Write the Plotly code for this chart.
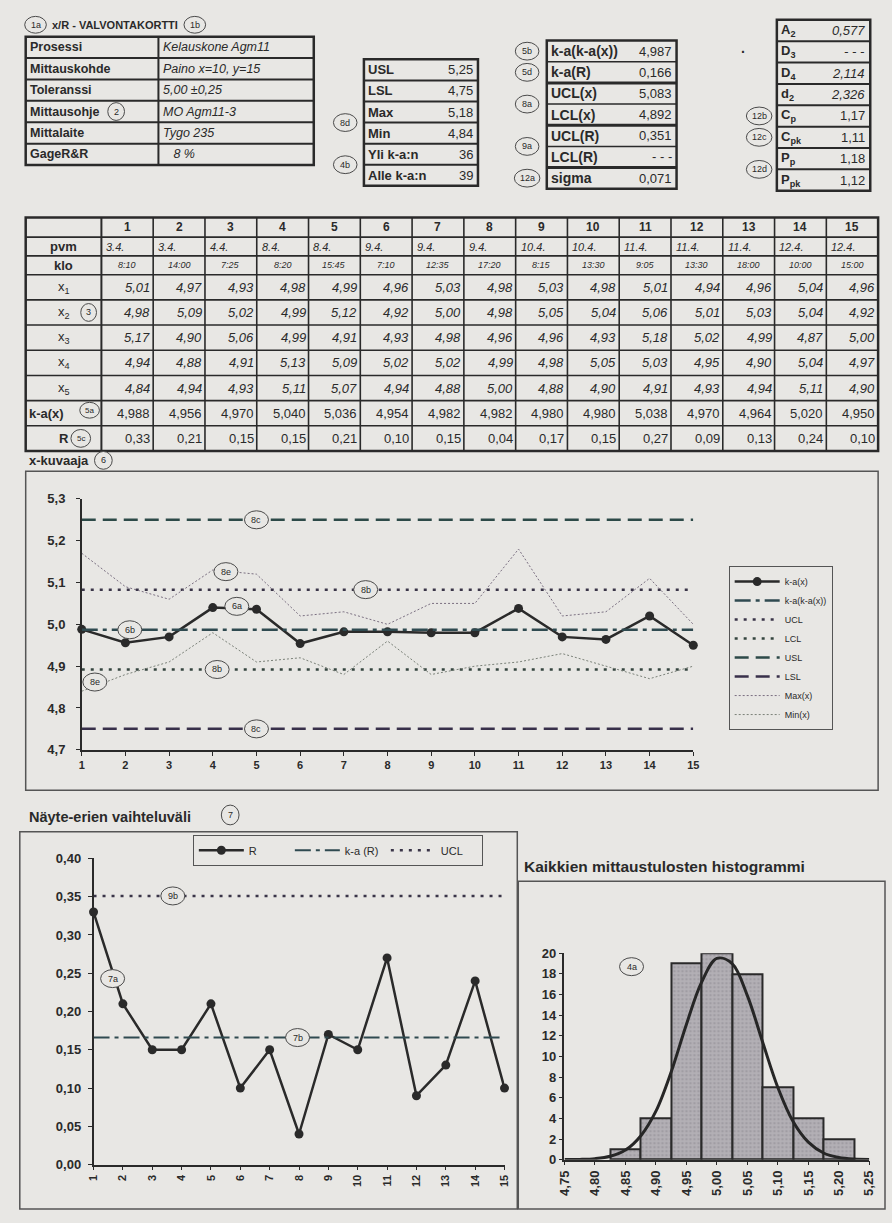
import plotly.graph_objects as go

W, H = 892, 1223
BG = "#e8e7e4"
INK = "#2a2a2a"
FONT = "Liberation Sans, Arial, sans-serif"

# ---------------- data ----------------
samples = list(range(1, 16))
pvm = ["3.4.", "3.4.", "4.4.", "8.4.", "8.4.", "9.4.", "9.4.", "9.4.", "10.4.", "10.4.",
       "11.4.", "11.4.", "11.4.", "12.4.", "12.4."]
klo = ["8:10", "14:00", "7:25", "8:20", "15:45", "7:10", "12:35", "17:20", "8:15", "13:30",
       "9:05", "13:30", "18:00", "10:00", "15:00"]
x1 = [5.01, 4.97, 4.93, 4.98, 4.99, 4.96, 5.03, 4.98, 5.03, 4.98, 5.01, 4.94, 4.96, 5.04, 4.96]
x2 = [4.98, 5.09, 5.02, 4.99, 5.12, 4.92, 5.00, 4.98, 5.05, 5.04, 5.06, 5.01, 5.03, 5.04, 4.92]
x3 = [5.17, 4.90, 5.06, 4.99, 4.91, 4.93, 4.98, 4.96, 4.96, 4.93, 5.18, 5.02, 4.99, 4.87, 5.00]
x4 = [4.94, 4.88, 4.91, 5.13, 5.09, 5.02, 5.02, 4.99, 4.98, 5.05, 5.03, 4.95, 4.90, 5.04, 4.97]
x5 = [4.84, 4.94, 4.93, 5.11, 5.07, 4.94, 4.88, 5.00, 4.88, 4.90, 4.91, 4.93, 4.94, 5.11, 4.90]
ka_x = [4.988, 4.956, 4.970, 5.040, 5.036, 4.954, 4.982, 4.982, 4.980, 4.980, 5.038, 4.970,
        4.964, 5.020, 4.950]
r_vals = [0.33, 0.21, 0.15, 0.15, 0.21, 0.10, 0.15, 0.04, 0.17, 0.15, 0.27, 0.09, 0.13, 0.24, 0.10]
max_x = [5.17, 5.09, 5.06, 5.13, 5.12, 5.02, 5.03, 5.00, 5.05, 5.05, 5.18, 5.02, 5.03, 5.11, 5.00]
min_x = [4.84, 4.88, 4.91, 4.98, 4.91, 4.92, 4.88, 4.96, 4.88, 4.90, 4.91, 4.93, 4.90, 4.87, 4.90]

ka_ka_x = 4.987
ka_r = 0.166
ucl_x = 5.083
lcl_x = 4.892
ucl_r = 0.351
usl = 5.25
lsl = 4.75

info_labels = ["Prosessi", "Mittauskohde", "Toleranssi", "Mittausohje", "Mittalaite", "GageR&R"]
info_values = ["Kelauskone Agm11", "Paino x=10, y=15", "5,00 ±0,25", "MO Agm11-3", "Tygo 235", "   8 %"]

lim_labels = ["USL", "LSL", "Max", "Min", "Yli k-a:n", "Alle k-a:n"]
lim_values = ["5,25", "4,75", "5,18", "4,84", "36", "39"]

stat_labels = ["k-a(k-a(x))", "k-a(R)", "UCL(x)", "LCL(x)", "UCL(R)", "LCL(R)", "sigma"]
stat_values = ["4,987", "0,166", "5,083", "4,892", "0,351", "- - -", "0,071"]

const_labels = ["A<sub>2</sub>", "D<sub>3</sub>", "D<sub>4</sub>", "d<sub>2</sub>",
                "C<sub>p</sub>", "C<sub>pk</sub>", "P<sub>p</sub>", "P<sub>pk</sub>"]
const_values = ["<i>0,577</i>", "<i>- - -</i>", "<i>2,114</i>", "<i>2,326</i>",
                "1,17", "1,11", "1,18", "1,12"]

hist_bins = [4.85, 4.90, 4.95, 5.00, 5.05, 5.10, 5.15, 5.20]
hist_counts = [1, 4, 19, 20, 18, 7, 4, 2]
curve_x = [4.75, 4.775, 4.80, 4.825, 4.85, 4.875, 4.90, 4.925, 4.95, 4.975, 5.00,
           5.025, 5.05, 5.075, 5.10, 5.125, 5.15, 5.175, 5.20, 5.225, 5.25]
curve_y = [0.01, 0.03, 0.10, 0.33, 0.93, 2.3, 4.7, 8.5, 13.1, 17.2, 19.5,
           19.0, 15.9, 11.4, 7.0, 3.7, 1.7, 0.65, 0.22, 0.06, 0.02]


# ---------------- helpers ----------------
def px(x):
    return x / W


def py(y):
    return 1 - y / H


shapes = []
annotations = []


def line(x0, y0, x1_, y1_, w=1.5, color=INK):
    shapes.append(dict(type="line", xref="paper", yref="paper", x0=px(x0), y0=py(y0),
                       x1=px(x1_), y1=py(y1_), line=dict(color=color, width=w)))


def rect(x0, y0, x1_, y1_, w=2, color=INK):
    shapes.append(dict(type="rect", xref="paper", yref="paper", x0=px(x0), y0=py(y0),
                       x1=px(x1_), y1=py(y1_), line=dict(color=color, width=w)))


def text(s, x, y, size=13, anchor="left", color=INK, weight="normal"):
    annotations.append(dict(text=s, x=px(x), y=py(y), xref="paper", yref="paper",
                            showarrow=False, xanchor=anchor, yanchor="middle", borderpad=0,
                            font=dict(family=FONT, size=size, color=color, weight=weight)))


def circ(s, x, y, xref="paper", yref="paper", w=24, h=18, size=9):
    if xref == "paper":
        shapes.append(dict(type="circle", xref="paper", yref="paper",
                           x0=px(x - w / 2), x1=px(x + w / 2), y0=py(y + h / 2), y1=py(y - h / 2),
                           line=dict(color="#4a4a4a", width=1), fillcolor=BG, layer="above"))
        annotations.append(dict(text=s, x=px(x), y=py(y), xref="paper", yref="paper",
                                showarrow=False, xanchor="center", yanchor="middle",
                                font=dict(family=FONT, size=size, color=INK)))
    else:
        shapes.append(dict(type="circle", xref=xref, yref=yref, xsizemode="pixel",
                           ysizemode="pixel", xanchor=x, yanchor=y, x0=-w / 2, x1=w / 2,
                           y0=-h / 2, y1=h / 2, line=dict(color="#4a4a4a", width=1),
                           fillcolor=BG, layer="above"))
        annotations.append(dict(text=s, x=x, y=y, xref=xref, yref=yref, showarrow=False,
                                xanchor="center", yanchor="middle",
                                font=dict(family=FONT, size=size, color=INK)))


# ---------------- header & top tables ----------------
circ("1a", 28, 18, w=22, h=17)
text("x/R - VALVONTAKORTTI", 44, 18, size=11, weight="bold")

# info table
ix0, ixm, ix1, iy0, iy1 = 18, 153, 311, 30, 160
rh = (iy1 - iy0) / len(info_labels)
rect(ix0, iy0, ix1, iy1, w=2.5)
line(ixm, iy0, ixm, iy1, w=2)
for i, (lab, val) in enumerate(zip(info_labels, info_values)):
    yc = iy0 + rh * (i + 0.5)
    if i > 0:
        line(ix0, iy0 + rh * i, ix1, iy0 + rh * i, w=2)
    text(lab, ix0 + 3, yc, size=12.5, weight="bold")
    text("<i>" + val + "</i>", ixm + 4, yc, size=12.5)
circ("1b", 190, 18, w=22, h=17)
circ("2", 110, iy0 + rh * 3.5, w=17, h=18)

# limits table
lx0, lx1, ly0, ly1 = 362, 478, 53, 181
rh = (ly1 - ly0) / len(lim_labels)
rect(lx0, ly0, lx1, ly1, w=2.5)
for i, (lab, val) in enumerate(zip(lim_labels, lim_values)):
    yc = ly0 + rh * (i + 0.5)
    if i > 0:
        line(lx0, ly0 + rh * i, lx1, ly0 + rh * i, w=2)
    text(lab, lx0 + 3, yc, size=13, weight="bold")
    text(val, lx1 - 4, yc, size=13, anchor="right")
circ("8d", 343, ly0 + rh * 3)
circ("4b", 343, ly0 + rh * 5)

# statistics table
sx0, sx1, sy0, sy1 = 548, 680, 34, 184
rh = (sy1 - sy0) / len(stat_labels)
rect(sx0, sy0, sx1, sy1, w=2.5)
for i, (lab, val) in enumerate(zip(stat_labels, stat_values)):
    yc = sy0 + rh * (i + 0.5)
    if i > 0:
        line(sx0, sy0 + rh * i, sx1, sy0 + rh * i, w=3 if i in (2, 4, 6) else 1.5)
    text(lab, sx0 + 3, yc, size=14, weight="bold")
    text(val, sx1 - 4, yc, size=13, anchor="right")
circ("5b", 528, sy0 + rh * 0.5)
circ("5d", 528, sy0 + rh * 1.5)
circ("8a", 528, sy0 + rh * 3)
circ("9a", 528, sy0 + rh * 5)
circ("12a", 528, sy0 + rh * 6.5, w=26)
text("·", 745, 46, size=14, weight="bold")

# constants table
cx0, cx1, cy0, cy1 = 782, 877, 13, 186
rh = (cy1 - cy0) / len(const_labels)
rect(cx0, cy0, cx1, cy1, w=2.5)
for i, (lab, val) in enumerate(zip(const_labels, const_values)):
    yc = cy0 + rh * (i + 0.5)
    if i > 0:
        line(cx0, cy0 + rh * i, cx1, cy0 + rh * i, w=2)
    text(lab, cx0 + 3, yc, size=13, weight="bold")
    text(val, cx1 - 4, yc, size=13, anchor="right")
circ("12b", 764, cy0 + rh * 4.5, w=26)
circ("12c", 764, cy0 + rh * 5.5, w=26)
circ("12d", 764, cy0 + rh * 7, w=26)

# ---------------- data table ----------------
tx0, tlab, tx1 = 18, 95, 885
row_bounds = [213, 233, 252, 271, 296.5, 322, 347.5, 373, 398.5, 424, 449.5]
colw = (tx1 - tlab) / len(samples)
rect(tx0, row_bounds[0], tx1, row_bounds[-1], w=2.5)
for yb in row_bounds[1:-1]:
    line(tx0, yb, tx1, yb, w=1.6)
line(tlab, row_bounds[0], tlab, row_bounds[-1], w=2)
for j in range(1, len(samples)):
    line(tlab + colw * j, row_bounds[0], tlab + colw * j, row_bounds[-1], w=1.6)

row_labels = ["", "pvm", "klo", "x<sub>1</sub>", "x<sub>2</sub>", "x<sub>3</sub>",
              "x<sub>4</sub>", "x<sub>5</sub>", "k-a(x)", "R"]
label_weight = ["bold", "bold", "bold", "normal", "normal", "normal", "normal", "normal",
                "bold", "bold"]
fmt2 = lambda v: ("%.2f" % v).replace(".", ",")
fmt3 = lambda v: ("%.3f" % v).replace(".", ",")
rows = [
    ([str(s) for s in samples], dict(size=12, weight="bold"), "center"),
    (["<i>" + p + "</i>" for p in pvm], dict(size=11), "left"),
    (["<i>" + k + "</i>" for k in klo], dict(size=9), "center"),
    (["<i>" + fmt2(v) + "</i>" for v in x1], dict(size=13), "right"),
    (["<i>" + fmt2(v) + "</i>" for v in x2], dict(size=13), "right"),
    (["<i>" + fmt2(v) + "</i>" for v in x3], dict(size=13), "right"),
    (["<i>" + fmt2(v) + "</i>" for v in x4], dict(size=13), "right"),
    (["<i>" + fmt2(v) + "</i>" for v in x5], dict(size=13), "right"),
    ([fmt3(v) for v in ka_x], dict(size=13), "right"),
    ([fmt2(v) for v in r_vals], dict(size=13), "right"),
]
for r, (vals, f, al) in enumerate(rows):
    yc = (row_bounds[r] + row_bounds[r + 1]) / 2
    lab = row_labels[r]
    if lab:
        if r == 8:
            text(lab, tx0 + 2, yc, size=13, weight=label_weight[r])
        elif r == 9:
            text(lab, tlab - 32, yc, size=13, anchor="right", weight=label_weight[r])
        else:
            text(lab, (tx0 + tlab) / 2, yc, size=13, anchor="center", weight=label_weight[r])
    for j, v in enumerate(vals):
        c0 = tlab + colw * j
        if al == "right":
            text(v, c0 + colw - 2, yc, anchor="right", **f)
        elif al == "left":
            text(v, c0 + 4, yc, anchor="left", **f)
        else:
            text(v, c0 + colw / 2, yc, anchor="center", **f)
circ("3", 82, (row_bounds[4] + row_bounds[5]) / 2, w=16, h=18)
circ("5a", 83, (row_bounds[8] + row_bounds[9]) / 2 - 3, w=20, h=16, size=8)
circ("5c", 74, (row_bounds[9] + row_bounds[10]) / 2, w=20, h=18, size=8)

# ---------------- chart frames & titles ----------------
text("x-kuvaaja", 20, 459, size=13, weight="bold")
circ("6", 97, 459, w=18, h=18)
rect(18, 470, 885, 793, w=1.5, color="#555")

text("Näyte-erien vaihteluväli", 20, 820, size=14.5, weight="bold")
circ("7", 226, 818, w=18, h=20)
rect(12, 835, 518, 1217, w=1.5, color="#555")

text("Kaikkien mittaustulosten histogrammi", 524, 870, size=15.5, weight="bold")
rect(519, 885, 892, 1217, w=1.5, color="#555")

# ---------------- traces ----------------
fig = go.Figure()
n = len(samples)

# x chart
fig.add_trace(go.Scatter(x=samples, y=ka_x, name="k-a(x)", mode="lines+markers",
                         line=dict(color=INK, width=2.5), marker=dict(size=9, color=INK),
                         cliponaxis=False, legend="legend"))
fig.add_trace(go.Scatter(x=samples, y=[ka_ka_x] * n, name="k-a(k-a(x))", mode="lines",
                         line=dict(color="#2f4a50", width=2.5, dash="16px,5px,4px,5px"),
                         legend="legend"))
fig.add_trace(go.Scatter(x=samples, y=[ucl_x] * n, name="UCL", mode="lines",
                         line=dict(color="#3a3548", width=2.5, dash="3px,6px"), legend="legend"))
fig.add_trace(go.Scatter(x=samples, y=[lcl_x] * n, name="LCL", mode="lines",
                         line=dict(color="#35453f", width=2.5, dash="3px,6px"), legend="legend"))
fig.add_trace(go.Scatter(x=samples, y=[usl] * n, name="USL", mode="lines",
                         line=dict(color="#2d4a48", width=2.5, dash="14px,7px"), legend="legend"))
fig.add_trace(go.Scatter(x=samples, y=[lsl] * n, name="LSL", mode="lines",
                         line=dict(color="#38304a", width=2.5, dash="14px,7px"), legend="legend"))
fig.add_trace(go.Scatter(x=samples, y=max_x, name="Max(x)", mode="lines",
                         line=dict(color="#7a6f80", width=1, dash="2px,2px"), legend="legend"))
fig.add_trace(go.Scatter(x=samples, y=min_x, name="Min(x)", mode="lines",
                         line=dict(color="#7a8078", width=1, dash="2px,2px"), legend="legend"))

# R chart
fig.add_trace(go.Scatter(x=samples, y=r_vals, name="R", mode="lines+markers",
                         line=dict(color=INK, width=2.5), marker=dict(size=9, color=INK),
                         cliponaxis=False, xaxis="x2", yaxis="y2", legend="legend2"))
fig.add_trace(go.Scatter(x=samples, y=[ka_r] * n, name="k-a (R)", mode="lines",
                         line=dict(color="#2f4a50", width=2, dash="16px,5px,4px,5px"),
                         xaxis="x2", yaxis="y2", legend="legend2"))
fig.add_trace(go.Scatter(x=samples, y=[ucl_r] * n, name="UCL", mode="lines",
                         line=dict(color="#3a3548", width=2.5, dash="3px,6px"),
                         xaxis="x2", yaxis="y2", legend="legend2"))

# histogram
fig.add_trace(go.Bar(x=hist_bins, y=hist_counts, width=0.05, showlegend=False,
                     marker=dict(color="#aeabb0", line=dict(color=INK, width=2),
                                 pattern=dict(shape=".", fgcolor="#8d8a92", bgcolor="#b3b0b5",
                                              size=4, solidity=0.35)),
                     xaxis="x3", yaxis="y3"))
fig.add_trace(go.Scatter(x=curve_x, y=curve_y, mode="lines", showlegend=False,
                         line=dict(color="#262626", width=3, shape="spline"),
                         xaxis="x3", yaxis="y3"))

# circle labels inside charts
circ("8c", 5.0, usl, "x", "y")
circ("8c", 5.0, lsl, "x", "y")
circ("8b", 7.5, ucl_x, "x", "y")
circ("8b", 4.1, lcl_x, "x", "y")
circ("8e", 4.3, 5.126, "x", "y")
circ("8e", 1.3, 4.862, "x", "y")
circ("6a", 4.55, 5.043, "x", "y")
circ("6b", 2.1, 4.987, "x", "y")
circ("9b", 3.7, ucl_r, "x2", "y2")
circ("7a", 1.65, 0.243, "x2", "y2")
circ("7b", 7.95, ka_r, "x2", "y2")
circ("4a", 4.86, 18.7, "x3", "y3")


def dom_x(a, b):
    return [px(a), px(b)]


def dom_y(top, bottom):
    return [py(bottom), py(top)]


axis_common = dict(showgrid=False, zeroline=False, showline=True, linecolor=INK, linewidth=1.5,
                    ticks="outside", tickcolor=INK, ticklen=4,
                    tickfont=dict(family=FONT, size=13, color=INK, weight="bold"))
small_ticks = dict(family=FONT, size=11, color=INK, weight="bold")

fig.update_layout(
    width=W, height=H, autosize=False,
    margin=dict(l=0, r=0, t=0, b=0),
    paper_bgcolor=BG, plot_bgcolor=BG,
    separators=", ",
    font=dict(family=FONT, color=INK),
    bargap=0,
    xaxis=dict(domain=dom_x(75, 697), range=[1, 15], dtick=1, anchor="y",
               **{**axis_common, "tickfont": small_ticks}),
    yaxis=dict(domain=dom_y(498, 752), range=[4.7, 5.3], dtick=0.1, tickformat=".1f",
               anchor="x", ticklabelstandoff=8, **axis_common),
    xaxis2=dict(domain=dom_x(87, 505), range=[1, 15], dtick=1, anchor="y2", tickangle=-90,
                **{**axis_common, "tickfont": small_ticks}),
    yaxis2=dict(domain=dom_y(862, 1172), range=[0, 0.4], dtick=0.05, tickformat=".2f",
                anchor="x2", ticklabelstandoff=4, **axis_common),
    xaxis3=dict(domain=dom_x(566, 876), range=[4.75, 5.25], tick0=4.75, dtick=0.05,
                tickformat=".2f", tickangle=-90, anchor="y3", **axis_common),
    yaxis3=dict(domain=dom_y(958, 1167), range=[0, 20], dtick=2, anchor="x3", **axis_common),
    legend=dict(x=px(733), y=py(566), xanchor="left", yanchor="top", bgcolor=BG,
                bordercolor="#555", borderwidth=1, tracegroupgap=0, itemwidth=45,
                font=dict(family=FONT, size=9, color=INK)),
    legend2=dict(x=px(188), y=py(838), xanchor="left", yanchor="top", orientation="h",
                 bgcolor=BG, bordercolor="#555", borderwidth=1, itemwidth=45,
                 entrywidth=36, entrywidthmode="pixels",
                 font=dict(family=FONT, size=11, color=INK)),
    shapes=shapes,
    annotations=annotations,
)

fig.write_html("out.html")
